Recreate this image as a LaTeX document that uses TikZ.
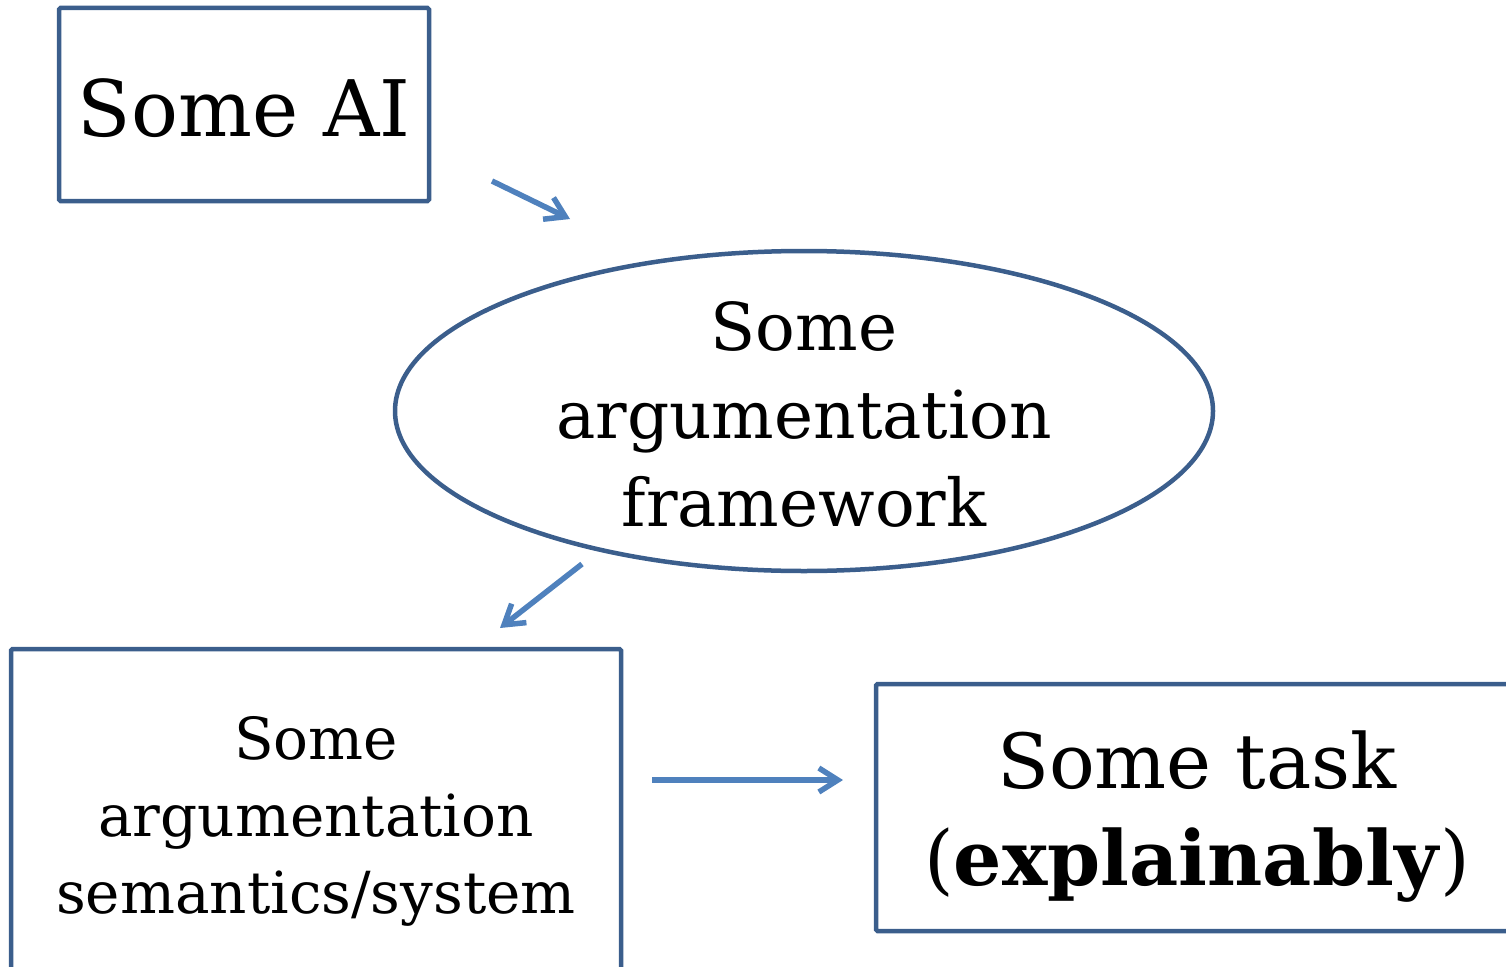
\documentclass[tikz,border=0pt]{standalone}
\usepackage{fontspec}
\setmainfont{DejaVu Serif}
\usetikzlibrary{shapes.geometric,arrows.meta}
\definecolor{frameblue}{HTML}{3B5E8C}
\definecolor{arrowblue}{HTML}{4F81BD}
\tikzset{
  frame/.style={draw=frameblue, line width=4.5pt, rounded corners=1.5pt, inner sep=0pt},
  flow/.style={draw=arrowblue, line width=5.5pt, line cap=butt,
    -{Straight Barb[length=19pt,width=24pt,line width=5.5pt]}},
  label/.style={align=center, inner sep=0pt, text=black},
}
\begin{document}
\begin{tikzpicture}[x=1pt, y=-1pt]
  \useasboundingbox (0,0) rectangle (1506,966);
  \clip (0,0) rectangle (1506,966);

  % input box
  \node[frame, minimum width=370pt, minimum height=193pt] (ai) at (244,104.5) {};
  \node[label, font=\fontsize{78}{90}\selectfont] (aitext) at (244,108) {Some AI};

  % framework ellipse
  \node[draw=frameblue, line width=4.5pt, ellipse, minimum width=818pt, minimum height=320pt, inner sep=0pt] (af) at (804,411) {};
  \node[label, font=\fontsize{66}{88}\selectfont] (aftext) at (804,414) {Some\\argumentation\\framework};

  % semantics box (runs past the lower edge)
  \node[frame, minimum width=610pt, minimum height=400pt] (sem) at (316,849) {};
  \node[label, font=\fontsize{58}{77}\selectfont] (semtext) at (316,821) {Some\\argumentation\\semantics/system};

  % task box (runs past the right edge)
  \node[frame, minimum width=700pt, minimum height=247pt] (task) at (1226,807.5) {};
  \node[label, font=\fontsize{76}{97}\selectfont] (tasktext) at (1197,817) {Some task\\(\textbf{explainably})};

  % connectors
  \coordinate (a1s) at (492,181);
  \coordinate (a1e) at (570,219);
  \coordinate (a2s) at (582,564);
  \coordinate (a2e) at (500,628);
  \coordinate (a3s) at (652,780);
  \coordinate (a3e) at (843,780);
  \draw[flow] (a1s) -- (a1e);
  \draw[flow] (a2s) -- (a2e);
  \draw[flow] (a3s) -- (a3e);
\end{tikzpicture}
\end{document}
